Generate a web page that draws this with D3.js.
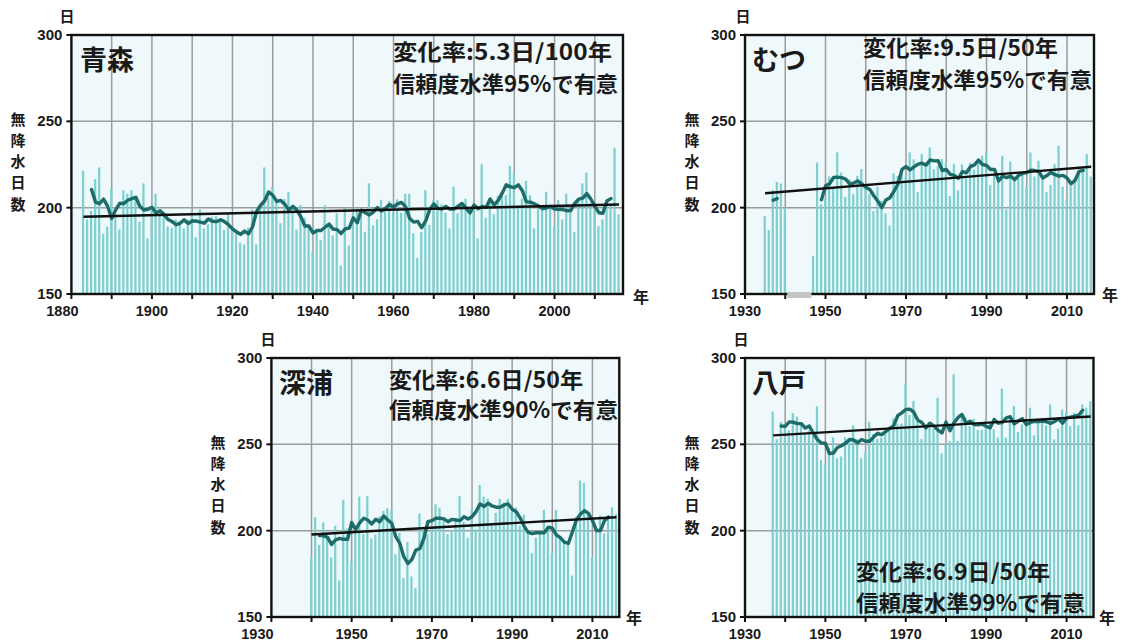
<!DOCTYPE html>
<html>
<head>
<meta charset="utf-8">
<script src="https://cdn.jsdelivr.net/npm/d3@7"></script>
<style>
  html, body { margin: 0; padding: 0; background: #ffffff; }
  svg { display: block; }
  text { font-family: "Noto Sans CJK JP", "Liberation Sans", sans-serif; font-weight: 700; fill: #1a1a1a; }
  .num { font-family: "Liberation Sans", "Noto Sans CJK JP", sans-serif; }
</style>
</head>
<body>
<svg id="chart" width="1121" height="641"></svg>
<script>
// 年間無降水日数（日）: 各地点の観測値
const aomoriStart = 1883;
const aomoriDays = [
  221.3,193.2,198.1,216.5,223.3,184.9,189.0,211.0,196.1,187.4,
  210.1,208.1,210.1,205.8,191.9,214.1,182.2,199.0,208.1,198.1,
  197.1,189.1,188.2,193.2,192.2,188.0,193.2,198.1,182.9,199.0,
  188.0,190.3,194.8,195.2,192.2,187.0,196.1,189.3,186.4,179.7,
  178.7,188.4,199.0,178.7,200.0,223.3,206.0,212.0,204.0,191.0,
  205.0,209.0,201.0,187.4,201.4,194.2,189.3,174.5,187.4,181.2,
  201.4,189.3,183.9,196.7,166.5,200.0,178.1,197.1,199.4,196.1,
  185.9,214.1,189.7,193.2,204.5,199.0,203.9,197.1,204.8,197.1,
  208.1,208.1,185.1,170.9,185.9,210.1,190.0,204.5,204.3,201.9,
  197.1,188.0,212.2,196.7,201.9,205.2,196.1,199.0,182.2,225.2,
  194.2,202.9,196.1,206.8,207.8,207.2,224.2,220.3,201.0,205.2,
  215.5,207.2,188.0,200.0,200.6,209.1,200.0,189.3,204.5,193.2,
  208.1,199.4,185.9,204.8,214.1,220.3,202.5,199.0,189.3,193.2,
  201.4,201.0,234.5,196.1
];

// むつ: 1941〜1946年は欠測 (null)
const mutsuStart = 1935;
const mutsuDays = [
  195.2,187.0,210.3,214.9,214.0,200.0,null,null,null,null,
  null,null,171.9,226.2,201.9,205.0,218.0,212.0,232.0,220.3,
  206.2,216.5,207.8,218.4,222.3,212.5,208.0,198.0,212.0,204.0,
  196.7,189.7,220.0,218.4,222.3,218.0,232.0,228.0,209.0,231.0,
  226.0,234.9,222.3,224.2,228.1,226.2,206.8,225.2,210.0,225.0,
  218.0,226.0,222.0,228.0,230.0,232.0,213.0,219.4,216.0,230.0,
  199.0,226.7,215.5,220.3,219.4,212.0,232.0,218.0,227.1,218.4,
  209.1,213.2,225.2,235.9,212.2,204.8,215.5,217.4,219.4,222.0,
  231.0,218.0
];

const fukauraStart = 1940;
const fukauraDays = [
  184.5,207.8,191.7,204.8,196.7,184.5,202.8,171.2,217.8,201.2,
  182.0,202.8,219.7,198.0,220.0,195.5,197.8,208.2,211.5,213.0,
  212.0,186.3,198.7,172.5,193.5,173.5,166.8,210.0,200.0,198.0,
  202.5,215.3,213.2,207.0,198.0,200.5,207.3,220.0,205.2,196.0,
  212.0,200.8,226.5,219.7,218.5,204.5,210.3,218.5,216.2,218.5,
  211.0,213.3,203.0,209.2,200.0,187.0,196.0,199.0,212.0,200.0,
  187.0,212.0,196.0,193.0,192.0,174.0,208.0,229.0,227.5,209.0,
  184.5,200.0,208.7,198.4,208.7,213.6,209.7
];

const hachinoheStart = 1937;
const hachinoheDays = [
  269.0,253.0,263.0,260.0,258.0,268.0,266.0,262.0,256.0,258.0,
  255.0,272.0,241.0,238.0,248.0,254.0,242.0,243.0,254.0,253.0,
  261.0,253.0,242.0,245.0,263.0,256.0,253.0,254.0,256.0,259.0,
  265.0,262.0,262.0,285.0,267.0,275.0,263.0,253.0,261.6,260.6,
  259.0,277.0,244.8,250.0,252.0,290.5,252.0,268.0,265.4,260.6,
  264.8,258.3,258.3,264.5,262.5,258.7,253.9,282.2,253.9,264.5,
  272.2,257.1,261.6,262.0,271.2,255.2,263.5,264.8,261.0,273.1,
  252.9,259.0,270.2,268.7,260.6,268.3,261.0,273.1,271.2,275.0
];

// 変化傾向（日/期間）と注記
const aomoriTrend = { change: 5.3, per: 100 };
const mutsuTrend = { change: 9.5, per: 50 };
const fukauraTrend = { change: 6.6, per: 50 };
const hachinoheTrend = { change: 6.9, per: 50 };

const aomoriNote = ["変化率:5.3日/100年", "信頼度水準95%で有意"];
const mutsuNote = ["変化率:9.5日/50年", "信頼度水準95%で有意"];
const fukauraNote = ["変化率:6.6日/50年", "信頼度水準90%で有意"];
const hachinoheNote = ["変化率:6.9日/50年", "信頼度水準99%で有意"];

const yTicks = [150, 200, 250, 300];
const aomoriYearLabels = [1880, 1900, 1920, 1940, 1960, 1980, 2000];
const modernYearLabels = [1930, 1950, 1970, 1990, 2010];
const axisTitleChars = ["無", "降", "水", "日", "数"];

// 描画レイアウト
const panels = [
  { name: "青森", start: aomoriStart, values: aomoriDays, trend: aomoriTrend, note: aomoriNote,
    xDomain: [1880, 2017], left: 71.4, right: 623, top: 35, bottom: 294,
    labels: aomoriYearLabels, firstLabelShift: -9, gridFrom: 1890,
    titlePos: [80, 70], notePos: [393, 60, 219, 225], noteGap: 32,
    yTitleX: 18, unitPos: [67, 22], yearPos: [641, 303] },
  { name: "むつ", start: mutsuStart, values: mutsuDays, trend: mutsuTrend, note: mutsuNote,
    xDomain: [1930, 2016.7], left: 745, right: 1094, top: 35, bottom: 294,
    labels: modernYearLabels, firstLabelShift: 0, gridFrom: 1940, missing: [1940.5, 1946.5],
    titlePos: [752, 70], notePos: [863, 56, 195, 229], noteGap: 32,
    yTitleX: 692, unitPos: [743, 22], yearPos: [1110, 301] },
  { name: "深浦", start: fukauraStart, values: fukauraDays, trend: fukauraTrend, note: fukauraNote,
    xDomain: [1930, 2016.7], left: 271.4, right: 619.3, top: 358, bottom: 617,
    labels: modernYearLabels, firstLabelShift: -14, gridFrom: 1940,
    titlePos: [279, 393], notePos: [389, 388, 194, 229], noteGap: 30,
    yTitleX: 218, unitPos: [268, 345], yearPos: [634, 624] },
  { name: "八戸", start: hachinoheStart, values: hachinoheDays, trend: hachinoheTrend, note: hachinoheNote,
    xDomain: [1930, 2016.7], left: 745, right: 1093.5, top: 358, bottom: 617,
    labels: modernYearLabels, firstLabelShift: 0, gridFrom: 1940,
    titlePos: [752, 393], notePos: [856, 580, 194, 229], noteGap: 31,
    yTitleX: 692, unitPos: [741, 345], yearPos: [1107, 624] }
];

const colors = {
  plotBg: "#eff8fa",
  grid: "#9c9c9c",
  bar: "#7dcfd0",
  mean: "#1d6c69",
  trend: "#111111",
  axis: "#111111",
  missing: "#c4c4c4"
};

const svg = d3.select("#chart");

// 5年移動平均（中心化）。欠測を含む区間は描かない
function movingAverage(years, vals, w) {
  const h = Math.floor(w / 2);
  return years.map((yr, i) => {
    if (i - h < 0 || i + h >= vals.length) return { year: yr, v: null };
    const win = vals.slice(i - h, i + h + 1);
    if (win.some(v => v == null)) return { year: yr, v: null };
    return { year: yr, v: d3.mean(win) };
  });
}

panels.forEach(p => {
  const years = p.values.map((_, i) => p.start + i);
  const pts = years.map((yr, i) => ({ year: yr, v: p.values[i] }));
  const valid = pts.filter(d => d.v != null);

  const x = d3.scaleLinear().domain(p.xDomain).range([p.left, p.right]);
  const y = d3.scaleLinear().domain([150, 300]).range([p.bottom, p.top]);
  const step = x(1) - x(0);

  const g = svg.append("g");

  // 背景
  g.append("rect")
    .attr("x", p.left).attr("y", p.top)
    .attr("width", p.right - p.left).attr("height", p.bottom - p.top)
    .attr("fill", colors.plotBg);

  // 格子線（10年ごと・50日ごと）
  const gridYears = d3.range(p.gridFrom, p.xDomain[1], 10);
  g.selectAll(".vgrid").data(gridYears).enter().append("line")
    .attr("x1", d => x(d)).attr("x2", d => x(d))
    .attr("y1", p.top).attr("y2", p.bottom)
    .attr("stroke", colors.grid).attr("stroke-width", 1.5);
  g.selectAll(".hgrid").data([200, 250]).enter().append("line")
    .attr("x1", p.left).attr("x2", p.right)
    .attr("y1", d => y(d)).attr("y2", d => y(d))
    .attr("stroke", colors.grid).attr("stroke-width", 1.5);

  // 棒グラフ（年々の値）
  const bw = step * 0.55;
  g.selectAll(".bar").data(valid).enter().append("rect")
    .attr("x", d => x(d.year) - bw / 2 - 0.4)
    .attr("y", d => y(d.v))
    .attr("width", bw)
    .attr("height", d => p.bottom - y(d.v))
    .attr("fill", colors.bar);

  // 5年移動平均
  const ma = movingAverage(years, p.values, 5);
  const line = d3.line()
    .defined(d => d.v != null)
    .x(d => x(d.year)).y(d => y(d.v))
    .curve(d3.curveLinear);
  g.append("path").datum(ma)
    .attr("d", line)
    .attr("fill", "none")
    .attr("stroke", colors.mean)
    .attr("stroke-width", 3.4)
    .attr("stroke-linejoin", "round")
    .attr("stroke-linecap", "round");

  // 長期変化傾向（直線）
  const slope = p.trend.change / p.trend.per;
  const mx = d3.mean(valid, d => d.year);
  const my = d3.mean(valid, d => d.v);
  const y0 = valid[0].year, y1 = valid[valid.length - 1].year;
  const trendPts = [y0, y1].map(yr => ({ year: yr, v: my + slope * (yr - mx) }));
  g.append("path").datum(trendPts)
    .attr("d", d3.line().x(d => x(d.year)).y(d => y(d.v)))
    .attr("stroke", colors.trend)
    .attr("stroke-width", 2.4)
    .attr("fill", "none");

  // 枠
  g.append("rect")
    .attr("x", p.left).attr("y", p.top)
    .attr("width", p.right - p.left).attr("height", p.bottom - p.top)
    .attr("fill", "none")
    .attr("stroke", colors.axis).attr("stroke-width", 2.4);

  // 欠測期間の表示
  if (p.missing) {
    g.append("rect")
      .attr("x", x(p.missing[0])).attr("y", p.bottom - 1)
      .attr("width", x(p.missing[1]) - x(p.missing[0]))
      .attr("height", 5)
      .attr("fill", colors.missing);
  }

  // x軸目盛
  const tickYears = d3.range(p.xDomain[0], p.xDomain[1], 10);
  g.selectAll(".xtick").data(tickYears).enter().append("line")
    .attr("x1", d => x(d)).attr("x2", d => x(d))
    .attr("y1", p.bottom).attr("y2", p.bottom + 5)
    .attr("stroke", colors.axis).attr("stroke-width", 2);
  g.selectAll(".xlab").data(p.labels).enter().append("text")
    .attr("class", "num")
    .attr("x", (d, i) => x(d) + (i === 0 ? p.firstLabelShift : 0))
    .attr("y", p.bottom + 22)
    .attr("text-anchor", "middle")
    .attr("font-size", 14.5)
    .text(d => d);

  // y軸目盛
  g.selectAll(".ytick").data(yTicks).enter().append("line")
    .attr("x1", p.left - 5).attr("x2", p.left)
    .attr("y1", d => y(d)).attr("y2", d => y(d))
    .attr("stroke", colors.axis).attr("stroke-width", 2);
  g.selectAll(".ylab").data(yTicks).enter().append("text")
    .attr("class", "num")
    .attr("x", p.left - 9)
    .attr("y", d => y(d) + 5)
    .attr("text-anchor", "end")
    .attr("font-size", 15)
    .text(d => d);

  // 単位
  g.append("text").attr("x", p.unitPos[0]).attr("y", p.unitPos[1])
    .attr("text-anchor", "middle").attr("font-size", 15).text("日");
  g.append("text").attr("x", p.yearPos[0]).attr("y", p.yearPos[1])
    .attr("text-anchor", "middle").attr("font-size", 16).text("年");

  // 縦書きの軸名
  const midY = (p.top + p.bottom) / 2;
  g.selectAll(".ytitle").data(axisTitleChars).enter().append("text")
    .attr("x", p.yTitleX)
    .attr("y", (d, i) => midY - 40 + i * 21.3)
    .attr("text-anchor", "middle")
    .attr("font-size", 15)
    .text(d => d);

  // 地点名
  g.append("text").attr("x", p.titlePos[0]).attr("y", p.titlePos[1])
    .attr("font-size", 27).text(p.name);

  // 変化率と有意性
  p.note.forEach((t, i) => {
    g.append("text")
      .attr("x", p.notePos[0])
      .attr("y", p.notePos[1] + i * p.noteGap)
      .attr("font-size", 22)
      .attr("textLength", p.notePos[2 + i])
      .attr("lengthAdjust", "spacingAndGlyphs")
      .text(t);
  });
});
</script>
</body>
</html>
